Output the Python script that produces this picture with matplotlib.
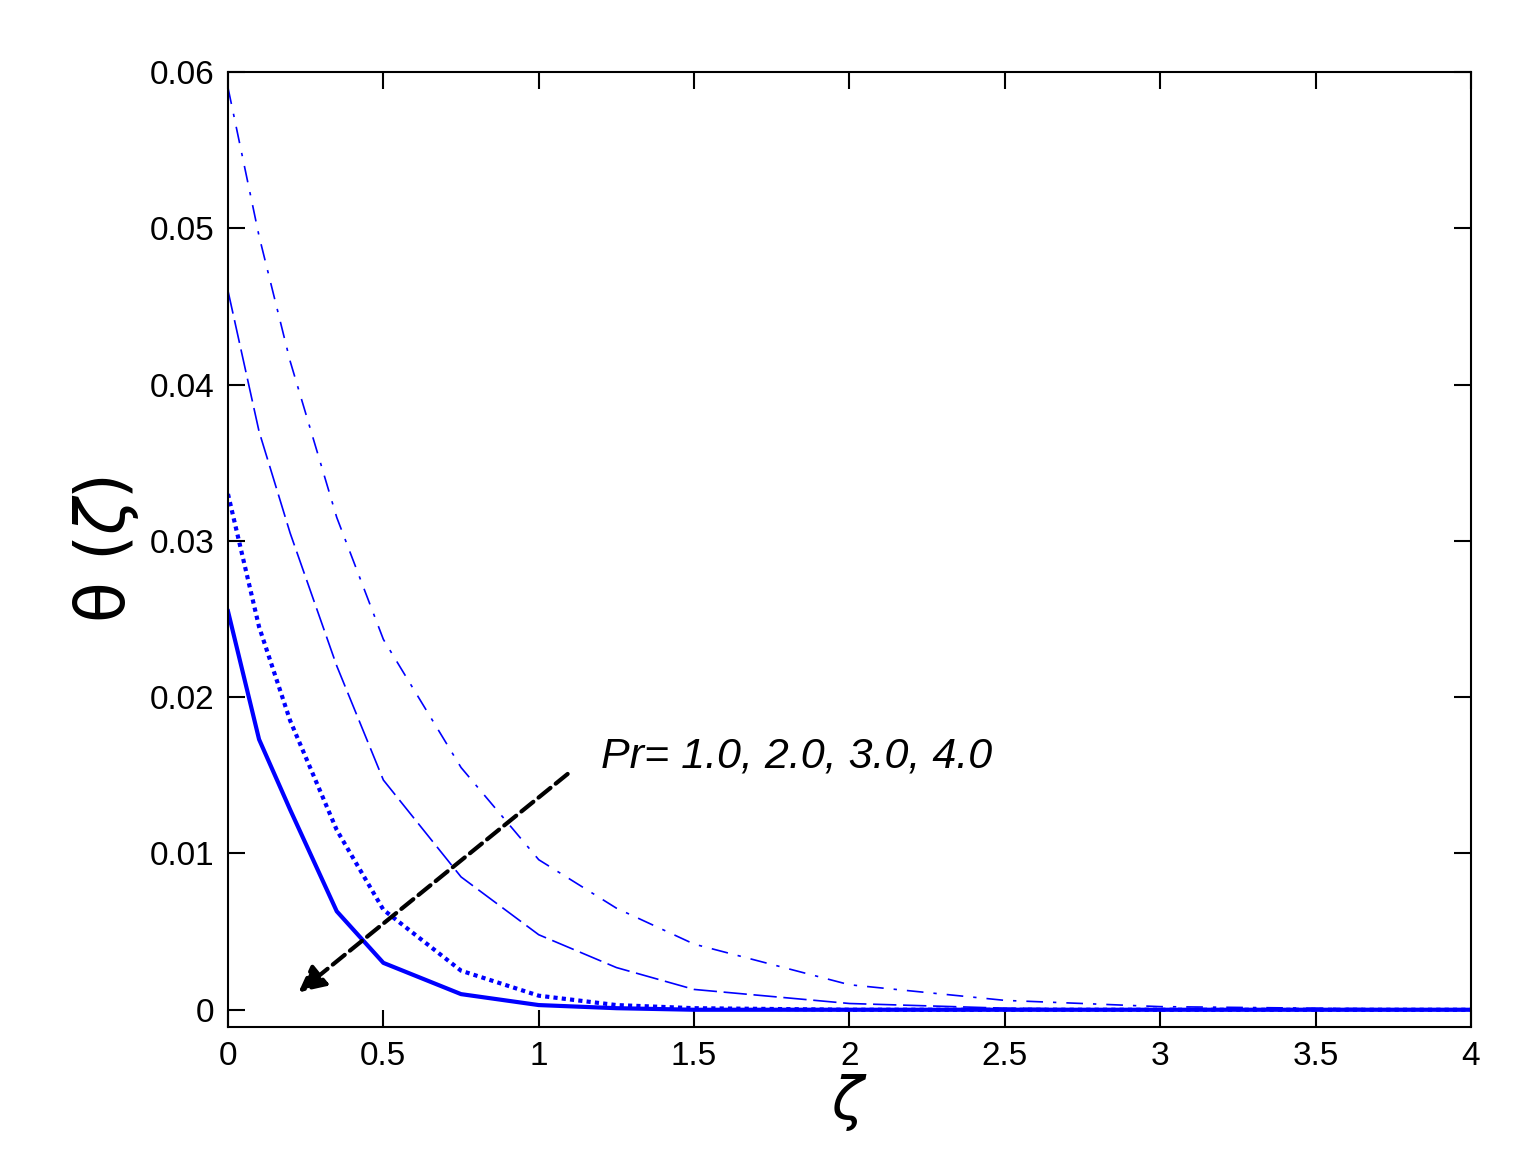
import numpy as np
import matplotlib.pyplot as plt
from matplotlib.ticker import FormatStrFormatter

# values
zeta = [0, 0.1, 0.2, 0.35, 0.5, 0.75, 1.0, 1.25, 1.5, 2.0, 2.5, 3.0, 3.5, 4.0]
theta_pr1 = [0.059, 0.0495, 0.0415, 0.0315, 0.0237, 0.0155, 0.0096, 0.0065, 0.0042, 0.0016, 0.0006, 0.0002, 0.0001, 0.0]
theta_pr2 = [0.046, 0.037, 0.0305, 0.022, 0.0147, 0.0085, 0.0048, 0.0027, 0.0013, 0.0004, 0.0001, 0.0, 0.0, 0.0]
theta_pr3 = [0.033, 0.0245, 0.0185, 0.0115, 0.0064, 0.0025, 0.0009, 0.0003, 0.0001, 0.0, 0.0, 0.0, 0.0, 0.0]
theta_pr4 = [0.0255, 0.0173, 0.0128, 0.0063, 0.003, 0.001, 0.0003, 0.0001, 0.0, 0.0, 0.0, 0.0, 0.0, 0.0]

fig = plt.figure(figsize=(15.24, 11.75), dpi=100)
ax = fig.add_axes([0.1496, 0.126, 0.8156, 0.8127])

ax.plot(zeta, theta_pr1, color='blue', lw=1.2, linestyle=(0, (10, 6, 2, 6)))
ax.plot(zeta, theta_pr2, color='blue', lw=1.2, linestyle=(0, (14, 4)))
ax.plot(zeta, theta_pr3, color='blue', lw=3, linestyle=(0, (1, 1)))
ax.plot(zeta, theta_pr4, color='blue', lw=3, linestyle='-')

ax.annotate('', xy=(0.22, 0.001), xytext=(1.1, 0.0152),
            arrowprops=dict(arrowstyle='-|>', color='black', lw=3, linestyle='--',
                            mutation_scale=40))
ax.text(1.2, 0.0155, 'Pr= 1.0, 2.0, 3.0, 4.0', fontsize=31, style='italic',
        family='Liberation Sans')

ax.set_xlim(0, 4)
ax.set_ylim(-0.0011, 0.06)
ax.set_xticks(np.arange(0, 4.01, 0.5))
ax.set_yticks(np.arange(0, 0.061, 0.01))
ax.xaxis.set_major_formatter(FormatStrFormatter('%g'))
ax.yaxis.set_major_formatter(FormatStrFormatter('%g'))
ax.tick_params(direction='in', top=True, right=True, length=12, width=1.5,
               labelsize=24, pad=10)
for lab in ax.get_xticklabels() + ax.get_yticklabels():
    lab.set_family('Liberation Sans')
for s in ax.spines.values():
    s.set_linewidth(1.5)

ax.set_xlabel(r'$\zeta$', fontsize=42, labelpad=0)
ax.set_ylabel(r'$\mathrm{\theta}\ (\zeta)$', fontsize=48, labelpad=6)

fig.savefig('out.png', dpi=100)
